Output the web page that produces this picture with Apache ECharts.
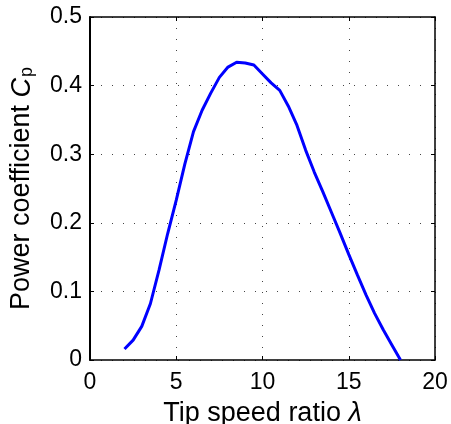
<!DOCTYPE html>
<html><head><meta charset="utf-8">
<script src="https://cdn.jsdelivr.net/npm/echarts@6/dist/echarts.min.js"></script>
<style>html,body{margin:0;padding:0;background:#fff}#c{width:451px;height:424px}</style>
</head><body><div id="c"></div>
<script>
var lambda = [2, 2.5, 3, 3.5, 4, 4.5, 5, 5.5, 6, 6.5, 7, 7.5, 8, 8.5, 9, 9.5, 10, 10.5, 11, 11.5, 12, 12.5, 13, 13.5, 14, 14.5, 15, 15.5, 16, 16.5, 17, 17.5, 18];
var cp = [0.016, 0.029, 0.049, 0.082, 0.131, 0.184, 0.233, 0.286, 0.333, 0.364, 0.389, 0.412, 0.427, 0.434, 0.433, 0.430, 0.417, 0.404, 0.393, 0.370, 0.342, 0.306, 0.274, 0.245, 0.215, 0.185, 0.154, 0.124, 0.095, 0.068, 0.044, 0.022, 0.0];
var xTicks = [0, 5, 10, 15, 20];
var yTicks = [0, 0.1, 0.2, 0.3, 0.4, 0.5];

var data = lambda.map(function(l, i){ return [l, cp[i]]; });
var font = '"Liberation Sans", Arial, sans-serif';
var chart = echarts.init(document.getElementById('c'), null, {renderer:'canvas'});
var grid = {left:90, right:16, top:17, bottom:64, containLabel:false, outerBoundsMode:'none'};
var split = {show:true, lineStyle:{color:'#444', width:1, type:[1,10]}};
chart.setOption({
  animation:false,
  grid:grid,
  xAxis:[{
    type:'value', min:xTicks[0], max:xTicks[xTicks.length-1], interval:5,
    axisLine:{show:true, onZero:false, lineStyle:{color:'#000', width:1.5}},
    axisTick:{show:true, inside:true, length:4, lineStyle:{color:'#000'}},
    axisLabel:{color:'#000', fontSize:23, fontFamily:font, margin:11},
    splitLine:split,
    name:'Tip speed ratio {i|λ}', nameLocation:'middle', nameGap:40,
    nameTextStyle:{color:'#000', fontSize:27, fontFamily:font,
      rich:{i:{fontStyle:'italic', fontSize:27, fontFamily:font, color:'#000'}}}
  },{
    type:'value', position:'top', min:0, max:20, interval:5,
    axisLine:{show:true, onZero:false, lineStyle:{color:'#000', width:1.5}},
    axisTick:{show:true, inside:true, length:4, lineStyle:{color:'#000'}},
    axisLabel:{show:false}, splitLine:{show:false}
  }],
  yAxis:[{
    type:'value', min:yTicks[0], max:yTicks[yTicks.length-1], interval:0.1,
    axisLine:{show:true, onZero:false, lineStyle:{color:'#000', width:2}},
    axisTick:{show:true, inside:true, length:4, lineStyle:{color:'#000'}},
    axisLabel:{color:'#000', fontSize:23, fontFamily:font, margin:8,
      formatter:function(v){ return v===0 ? '0' : v.toFixed(1); }},
    splitLine:split,
    name:'Power coefficient {i|C}{s|p}', nameLocation:'middle', nameGap:54, nameRotate:90,
    nameTextStyle:{color:'#000', fontSize:27, fontFamily:font,
      rich:{i:{fontStyle:'italic', fontSize:27, fontFamily:font, color:'#000'},
            s:{fontSize:18, fontFamily:font, color:'#000', padding:[10,0,0,1]}}}
  },{
    type:'value', position:'right', min:0, max:0.5, interval:0.1,
    axisLine:{show:true, onZero:false, lineStyle:{color:'#000', width:1.5}},
    axisTick:{show:true, inside:true, length:4, lineStyle:{color:'#000'}},
    axisLabel:{show:false}, splitLine:{show:false}
  }],
  series:[{
    type:'line', data:data, showSymbol:false, smooth:false,
    lineStyle:{color:'#0000ff', width:3}
  }]
});
</script></body></html>
